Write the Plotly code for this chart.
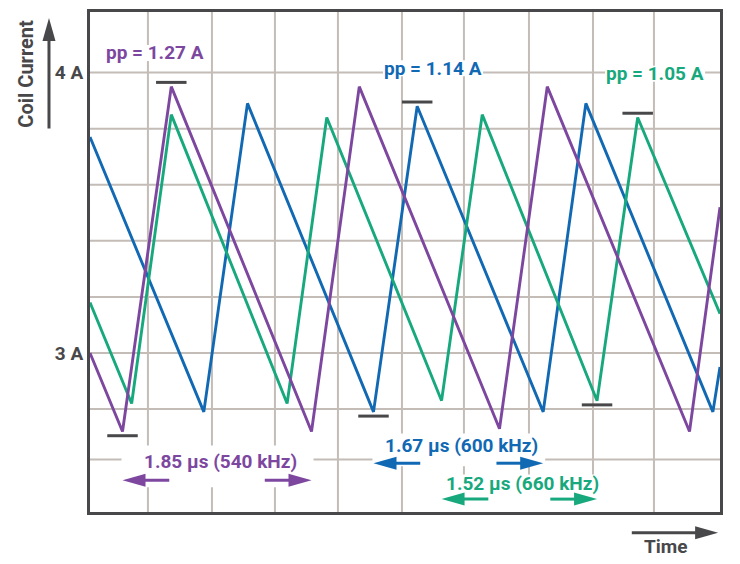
import plotly.graph_objects as go

# time in microseconds, coil current in amps (vertices of the triangle waves)
purple_t = [0, 0.32, 0.80, 2.18, 2.65, 4.03, 4.50, 5.90, 6.20]
purple_i = [3.00, 2.72, 3.95, 2.72, 3.95, 2.73, 3.95, 2.72, 3.52]

blue_t = [0, 1.12, 1.55, 2.79, 3.22, 4.46, 4.88, 6.13, 6.20]
blue_i = [3.77, 2.79, 3.89, 2.79, 3.88, 2.79, 3.89, 2.79, 2.95]

green_t = [0, 0.41, 0.80, 1.94, 2.33, 3.46, 3.86, 4.99, 5.39, 6.20]
green_i = [3.18, 2.82, 3.85, 2.82, 3.84, 2.83, 3.85, 2.83, 3.84, 3.14]

pp_labels = ["pp = 1.27 A", "pp = 1.14 A", "pp = 1.05 A"]
period_labels = ["1.85 µs (540 kHz)", "1.67 µs (600 kHz)", "1.52 µs (660 kHz)"]

grid_x = [0.57, 1.20, 1.82, 2.44, 3.07, 3.68, 4.32, 4.95, 5.55]
grid_y = [2.62, 2.8, 3.0, 3.2, 3.4, 3.6, 3.8, 4.0]
grid_y_text = ["", "", "3 A", "", "", "", "", "4 A"]

PURPLE = "#7d47a0"
BLUE = "#1169b4"
GREEN = "#17a97d"
DARK = "#48484a"
GRID = "#c4bcb7"
FONT = "Roboto"

fig = go.Figure()
for t, i, c in [(blue_t, blue_i, BLUE), (green_t, green_i, GREEN), (purple_t, purple_i, PURPLE)]:
    fig.add_trace(go.Scatter(x=t, y=i, mode="lines", line=dict(color=c, width=2.9),
                             hoverinfo="skip", showlegend=False))

shapes = []

# grid drawn as shapes so the white label boxes can sit on top of it
for gx in grid_x:
    shapes.append(dict(type="line", layer="below", xref="x", yref="paper", x0=gx, x1=gx, y0=0, y1=1,
                       line=dict(color=GRID, width=2)))
for gy in grid_y:
    shapes.append(dict(type="line", layer="below", xref="paper", yref="y", x0=0, x1=1, y0=gy, y1=gy,
                       line=dict(color=GRID, width=2)))


def box(x0, x1, y0, y1):
    shapes.append(dict(type="rect", layer="below", xref="x", yref="y", x0=x0, x1=x1, y0=y0, y1=y1,
                       fillcolor="white", line=dict(width=0)))


def hline(x0, x1, y, color=DARK, ref="x"):
    shapes.append(dict(type="line", xref=ref, yref=ref.replace("x", "y"), x0=x0, x1=x1, y0=y, y1=y,
                       line=dict(color=color, width=3)))


def head(xa, ya, path, color, ref="x"):
    shapes.append(dict(type="path", xref=ref, yref=ref.replace("x", "y"), xsizemode="pixel", ysizemode="pixel",
                       xanchor=xa, yanchor=ya, path=path, fillcolor=color, line=dict(width=0)))


# peak / valley markers
for t, i, top, bot in [(purple_t, purple_i, 2, 1), (blue_t, blue_i, 4, 3), (green_t, green_i, 8, 7)]:
    hline(t[top] - 0.15, t[top] + 0.15, i[top] + 0.015)
    hline(t[bot] - 0.15, t[bot] + 0.15, i[bot] - 0.015)

annotations = []

# peak-to-peak labels
for txt, x, y, c in [(pp_labels[0], 0.64, 4.07, PURPLE), (pp_labels[1], 3.376, 4.015, BLUE),
                     (pp_labels[2], 5.561, 3.996, GREEN)]:
    shapes.append(dict(type="rect", layer="below", xref="x", yref="y", xsizemode="pixel", ysizemode="pixel",
                       xanchor=x, yanchor=y, x0=-50, x1=50, y0=-8, y1=8,
                       fillcolor="white", line=dict(width=0)))
    annotations.append(dict(text=txt, x=x, y=y, xref="x", yref="y", showarrow=False,
                            xanchor="center", yanchor="middle",
                            font=dict(family=FONT, size=19, color=c, weight=700)))

# period labels with arrows, valley to valley
tail = 0.46
for t, k, ya, yt, yb0, yb1, c, txt in [
        (purple_t, 1, 2.546, 2.613, 2.521, 2.670, PURPLE, period_labels[0]),
        (blue_t, 3, 2.607, 2.670, 2.596, 2.713, BLUE, period_labels[1]),
        (green_t, 5, 2.479, 2.534, 2.433, 2.567, GREEN, period_labels[2])]:
    x0, x1 = t[k], t[k + 2]
    box(x0 - 0.01, x1 + 0.02, yb0, yb1)
    hline(x0 + 0.15, x0 + tail, ya, c)
    hline(x1 - tail, x1 - 0.15, ya, c)
    head(x0, ya, "M0,0 L23,6.5 L23,-6.5 Z", c)
    head(x1, ya, "M0,0 L-23,6.5 L-23,-6.5 Z", c)
    annotations.append(dict(text=txt, x=(x0 + x1) / 2 + 0.03, y=yt, xref="x", yref="y", showarrow=False,
                            xanchor="center", yanchor="middle",
                            font=dict(family=FONT, size=19, color=c, weight=700)))

# axis arrows
shapes.append(dict(type="line", xref="paper", yref="paper", x0=-0.0651, x1=-0.0651, y0=0.767, y1=0.95,
                   line=dict(color=DARK, width=3)))
head(-0.0651, 0.988, "M0,0 L-6.5,-23 L6.5,-23 Z", DARK, ref="paper")
hline(0.860, 0.975, -0.0417, DARK, ref="paper")
head(0.997, -0.0417, "M0,0 L-23,6.5 L-23,-6.5 Z", DARK, ref="paper")

annotations.append(dict(text="Coil Current", x=-0.1016, y=0.8767, xref="paper", yref="paper", showarrow=False,
                        xanchor="center", yanchor="middle", textangle=-90,
                        font=dict(family=FONT, size=20, color=DARK, weight=700)))
annotations.append(dict(text="Time", x=0.9135, y=-0.0696, xref="paper", yref="paper", showarrow=False,
                        xanchor="center", yanchor="middle",
                        font=dict(family=FONT, size=19, color=DARK, weight=700)))

fig.update_layout(
    width=732, height=556,
    margin=dict(l=82, r=20, t=1, b=52),
    plot_bgcolor="white", paper_bgcolor="white",
    shapes=shapes, annotations=annotations,
    xaxis=dict(range=[0, 6.2], showticklabels=False, ticks="", showgrid=False, zeroline=False,
               showline=True, mirror=True, linecolor=DARK, linewidth=3),
    yaxis=dict(range=[2.433, 4.216], tickvals=grid_y, ticktext=grid_y_text, ticks="",
               showgrid=False, zeroline=False,
               showline=True, mirror=True, linecolor=DARK, linewidth=3,
               tickfont=dict(family=FONT, size=19, color=DARK, weight=700)),
)

fig.write_html("out.html")
